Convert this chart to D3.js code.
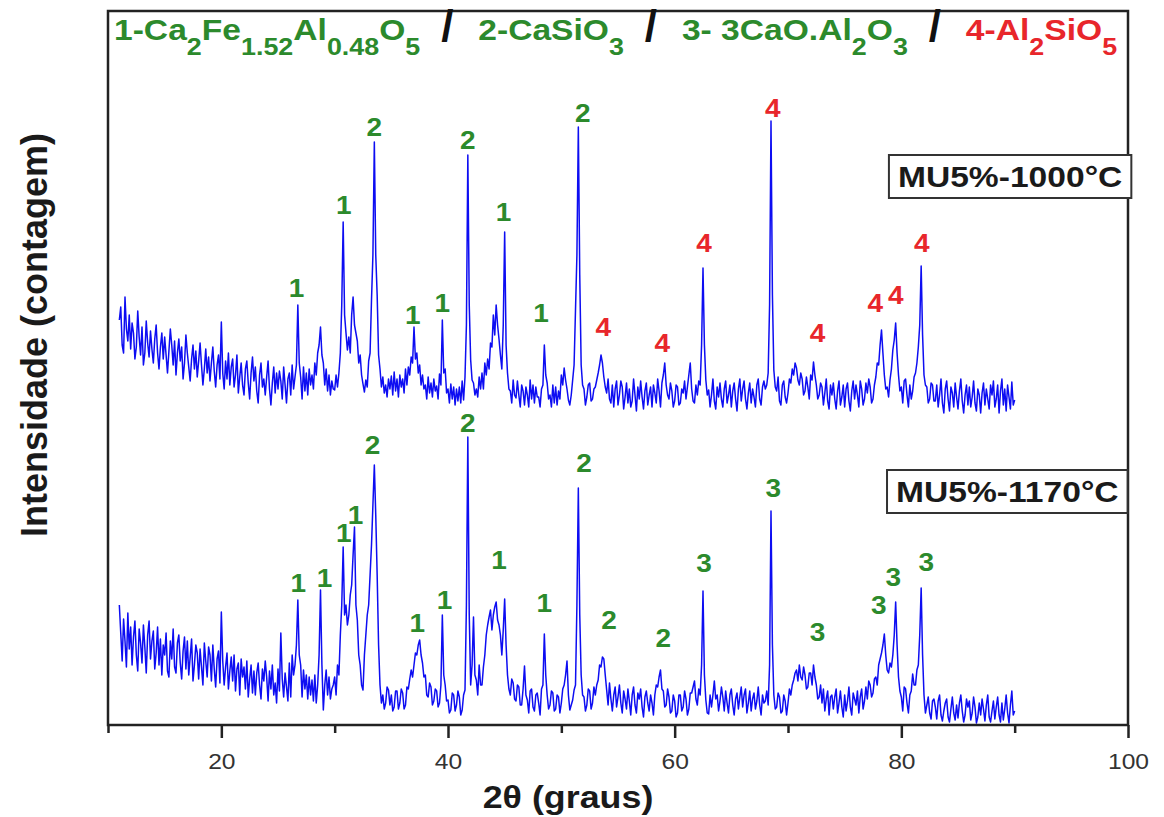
<!DOCTYPE html>
<html>
<head>
<meta charset="utf-8">
<script src="https://cdn.jsdelivr.net/npm/d3@7"></script>
<style>
  body { margin: 0; background: #fff; }
  text { font-family: "Liberation Sans", Arial, sans-serif; }
</style>
</head>
<body>
<svg width="1164" height="817"></svg>
<script>
const width = 1164;
const height = 817;
const margin = { left: 108, right: 36, top: 11, bottom: 92 };
const stretch = 1.12; // the source picture is a bit wider than tall

// 2theta sampling of both patterns
const startAngle = 11;
const stepAngle = 0.125;

// intensity (a.u.), one value every 0.125 deg from 11 to 90, one row per degree
const mu1000 = [
  405, 418, 380, 372, 428, 396, 384, 410,
  376, 402, 392, 366, 378, 414, 388, 370,
  398, 360, 372, 404, 382, 368, 394, 376,
  362, 386, 400, 372, 356, 378, 392, 366,
  388, 370, 352, 374, 396, 380, 360, 384,
  350, 372, 386, 364, 378, 346, 362, 390,
  372, 358, 344, 366, 380, 356, 374, 348,
  364, 382, 360, 340, 356, 376, 352, 368,
  344, 362, 378, 354, 338, 360, 370, 346,
  403, 352, 336, 364, 346, 372, 340, 358,
  366, 338, 350, 370, 332, 348, 362, 340,
  330, 356, 364, 342, 326, 352, 368, 344,
  358, 334, 322, 350, 362, 338, 346, 330,
  348, 364, 336, 320, 342, 358, 332, 352,
  336, 354, 344, 326, 358, 340, 322, 346,
  352, 330, 360, 336, 348, 360, 420, 362,
  348, 326, 358, 334, 352, 330, 356, 340,
  350, 336, 362, 350, 372, 380, 398, 370,
  362, 340, 356, 334, 350, 330, 344, 336,
  335, 350, 338, 352, 372, 420, 503, 410,
  392, 375, 388, 372, 410, 428, 400, 392,
  384, 362, 370, 350, 341, 333, 345, 338,
  364, 372, 425, 470, 583, 470, 430, 370,
  356, 338, 348, 332, 340, 328, 346, 336,
  349, 330, 353, 334, 346, 328, 350, 338,
  346, 332, 356, 340, 358, 350, 368, 362,
  398, 366, 372, 352, 360, 340, 350, 336,
  340, 326, 348, 332, 342, 328, 346, 334,
  339, 326, 351, 340, 405, 352, 356, 332,
  336, 322, 341, 326, 338, 320, 336, 324,
  338, 322, 344, 325, 348, 400, 570, 420,
  365, 345, 342, 330, 336, 328, 348, 336,
  352, 336, 362, 350, 366, 356, 382, 378,
  410, 390, 420, 400, 386, 370, 356, 400,
  493, 380, 352, 336, 334, 322, 345, 330,
  327, 344, 330, 318, 340, 334, 320, 338,
  330, 318, 345, 326, 340, 322, 338, 328,
  328, 318, 336, 340, 380, 350, 342, 326,
  330, 318, 340, 322, 338, 320, 334, 326,
  350, 340, 357, 345, 336, 325, 320, 330,
  345, 360, 415, 470, 598, 450, 360, 340,
  336, 320, 328, 340, 342, 324, 326, 336,
  338, 345, 352, 360, 370, 362, 348, 338,
  332, 346, 326, 322, 340, 318, 336, 344,
  320, 330, 344, 338, 316, 328, 342, 322,
  336, 318, 324, 346, 330, 314, 338, 326,
  344, 328, 316, 334, 342, 320, 330, 338,
  318, 340, 332, 322, 346, 334, 318, 342,
  350, 362, 340, 330, 326, 342, 334, 318,
  324, 340, 338, 320, 322, 336, 332, 344,
  326, 338, 350, 362, 336, 324, 322, 340,
  330, 344, 340, 380, 457, 380, 345, 330,
  335, 318, 330, 346, 324, 316, 338, 328,
  342, 326, 318, 336, 344, 322, 330, 340,
  318, 334, 342, 326, 314, 336, 346, 324,
  336, 344, 326, 316, 332, 342, 322, 336,
  328, 318, 340, 346, 326, 320, 338, 344,
  336, 340, 352, 420, 604, 430, 355, 338,
  334, 348, 324, 320, 340, 344, 328, 322,
  332, 346, 342, 356, 350, 362, 357, 345,
  340, 352, 346, 330, 334, 348, 338, 326,
  350, 345, 363, 350, 340, 326, 330, 342,
  338, 320, 332, 346, 324, 316, 340, 330,
  342, 326, 316, 334, 344, 320, 328, 340,
  318, 336, 342, 324, 314, 334, 344, 326,
  340, 330, 318, 344, 336, 320, 326, 342,
  332, 346, 338, 322, 326, 340, 348, 362,
  360, 380, 395, 372, 350, 336, 338, 328,
  345, 356, 375, 385, 402, 372, 350, 334,
  338, 322, 344, 346, 330, 318, 340, 326,
  334, 348, 352, 362, 378, 400, 459, 390,
  350, 340, 338, 322, 326, 342, 340, 324,
  324, 340, 318, 330, 346, 322, 312, 336,
  344, 326, 314, 338, 332, 318, 342, 328,
  316, 334, 346, 324, 312, 330, 340, 320,
  338, 318, 328, 344, 322, 314, 336, 330,
  312, 332, 342, 320, 336, 326, 316, 340,
  330, 344, 318, 326, 340, 312, 334, 346,
  320, 336, 314, 340, 328, 316, 343, 320,
  325
];

const mu1170 = [
  120, 92, 64, 106, 84, 58, 112, 76,
  98, 60, 88, 104, 70, 54, 96, 82,
  62, 100, 78, 52, 90, 104, 66, 84,
  94, 56, 72, 98, 60, 86, 50, 80,
  70, 92, 54, 48, 84, 66, 96, 58,
  52, 82, 90, 62, 46, 74, 88, 56,
  84, 50, 68, 86, 44, 60, 80, 72,
  46, 76, 58, 40, 82, 64, 48, 78,
  70, 44, 80, 56, 38, 66, 74, 42,
  113, 64, 40, 58, 72, 36, 54, 68,
  44, 70, 34, 56, 62, 30, 66, 48,
  58, 36, 64, 28, 46, 60, 32, 54,
  30, 52, 62, 40, 26, 56, 44, 64,
  48, 24, 54, 36, 60, 30, 42, 22,
  56, 34, 92, 46, 28, 52, 38, 24,
  62, 28, 70, 50, 60, 80, 125, 70,
  60, 28, 55, 36, 50, 26, 48, 30,
  45, 24, 50, 22, 40, 70, 135, 60,
  15, 40, 55, 30, 48, 26, 36, 40,
  48, 30, 60, 50, 90, 120, 178, 110,
  120, 100, 110, 130, 140, 170, 198, 120,
  105, 70, 60, 40, 35, 70, 90, 110,
  120, 150, 180, 220, 260, 210, 150, 80,
  40, 22, 30, 16, 22, 38, 35, 20,
  30, 14, 18, 34, 34, 16, 22, 36,
  32, 16, 20, 38, 36, 46, 55, 48,
  60, 72, 70, 80, 85, 70, 62, 48,
  50, 30, 28, 42, 38, 20, 24, 36,
  34, 18, 22, 40, 110, 50, 40, 24,
  25, 12, 15, 32, 30, 14, 20, 34,
  28, 10, 15, 30, 35, 120, 288, 110,
  40, 60, 108, 50, 45, 30, 60, 40,
  40, 58, 70, 90, 100, 108, 115, 95,
  110, 118, 123, 105, 100, 90, 70, 95,
  126, 80, 50, 36, 30, 46, 42, 26,
  24, 40, 38, 20, 20, 36, 59, 30,
  25, 12, 34, 36, 18, 14, 30, 32,
  22, 10, 36, 40, 91, 50, 30, 16,
  20, 34, 32, 14, 16, 30, 28, 12,
  22, 36, 40, 50, 64, 30, 15, 20,
  25, 35, 40, 120, 237, 110, 50, 30,
  28, 14, 20, 36, 34, 16, 22, 38,
  30, 40, 45, 60, 58, 68, 66, 50,
  35, 20, 42, 26, 14, 30, 38, 18,
  28, 40, 22, 12, 34, 26, 16, 36,
  24, 10, 30, 38, 20, 12, 32, 26,
  36, 18, 8, 28, 34, 22, 14, 30,
  22, 10, 30, 40, 38, 48, 55, 36,
  34, 18, 20, 36, 28, 12, 14, 30,
  24, 8, 12, 30, 30, 14, 18, 34,
  26, 10, 16, 32, 32, 38, 44, 26,
  20, 36, 30, 60, 134, 50, 25, 12,
  11, 30, 18, 30, 44, 26, 30, 14,
  24, 38, 28, 14, 34, 22, 12, 30,
  36, 20, 10, 26, 32, 16, 28, 38,
  18, 30, 36, 12, 22, 34, 14, 26,
  32, 16, 24, 38, 20, 10, 30, 22,
  24, 34, 20, 60, 214, 80, 30, 16,
  18, 32, 28, 12, 14, 30, 24, 10,
  22, 36, 30, 40, 45, 52, 55, 44,
  60, 48, 45, 58, 50, 36, 38, 52,
  52, 40, 60, 48, 40, 26, 28, 40,
  22, 36, 14, 26, 34, 10, 28, 30,
  16, 28, 36, 12, 22, 34, 18, 8,
  30, 14, 24, 38, 18, 10, 32, 26,
  20, 34, 12, 28, 36, 16, 24, 38,
  26, 44, 40, 28, 32, 46, 48, 40,
  60, 66, 72, 80, 91, 70, 55, 52,
  62, 58, 70, 90, 123, 80, 48, 34,
  28, 14, 38, 36, 22, 12, 30, 34,
  51, 40, 40, 55, 60, 90, 137, 70,
  30, 12, 20, 28, 12, 6, 24, 26,
  18, 6, 24, 30, 10, 4, 14, 22,
  26, 8, 3, 16, 28, 12, 5, 20,
  7, 22, 30, 14, 3, 10, 26, 18,
  24, 5, 12, 28, 18, 2, 8, 22,
  10, 26, 16, 4, 20, 30, 8, 3,
  14, 24, 6, 18, 28, 10, 3, 22,
  5, 16, 30, 12, 2, 20, 34, 10,
  14
];

// peak markers: [2theta, intensity of the label, phase]
const peaks1000 = [
  [26.64, 437, "1"], [30.8, 520, "1"], [33.5, 598, "2"], [36.9, 410, "1"],
  [39.5, 422, "1"], [41.75, 585, "2"], [44.9, 513, "1"], [48.2, 412, "1"],
  [51.9, 612, "2"], [53.7, 398, "4"], [58.9, 382, "4"], [62.6, 482, "4"],
  [68.65, 617, "4"], [72.6, 392, "4"], [77.7, 422, "4"], [79.5, 430, "4"],
  [81.8, 482, "4"]
];
const peaks1170 = [
  [26.8, 142, "1"], [29.1, 147, "1"], [30.8, 192, "1"], [31.85, 210, "1"],
  [33.35, 280, "2"], [37.3, 102, "1"], [39.7, 125, "1"], [41.75, 302, "2"],
  [44.5, 165, "1"], [48.5, 122, "1"], [52.0, 262, "2"], [54.2, 105, "2"],
  [59.0, 87, "2"], [62.6, 162, "3"], [68.7, 237, "3"], [72.6, 93, "3"],
  [78.0, 120, "3"], [79.3, 148, "3"], [82.2, 163, "3"]
];

// sample names and where they sit
const sampleNames = ["MU5%-1000°C", "MU5%-1170°C"];
const sampleAngles = [89.6, 89.35];
const sampleLevels = [549, 234];

// phase legend, parts flagged 1 are subscripts
const phaseNames = ["1", "2", "3", "4"];
const phaseParts = [
  [["1-Ca", 0], ["2", 1], ["Fe", 0], ["1.52", 1], ["Al", 0], ["0.48", 1], ["O", 0], ["5", 1]],
  [["2-CaSiO", 0], ["3", 1]],
  [["3- 3CaO.Al", 0], ["2", 1], ["O", 0], ["3", 1]],
  [["4-Al", 0], ["2", 1], ["SiO", 0], ["5", 1]]
];
const phaseColors = ["#2c8a2c", "#2c8a2c", "#2c8a2c", "#e8262b"];

const xTicks = [20, 40, 60, 80, 100];
const xMinorTicks = [10, 30, 50, 70, 90];

const svg = d3.select("svg");
const colorOf = p => phaseColors[phaseNames.indexOf(p)];

const x = d3.scaleLinear()
  .domain([10, 100])
  .range([margin.left, width - margin.right]);

const y = d3.scaleLinear()
  .domain([0, 714])
  .range([height - margin.bottom, margin.top]);

// patterns
const line = d3.line()
  .x((d, i) => x(startAngle + i * stepAngle))
  .y(d => y(d));

[mu1000, mu1170].forEach(series => {
  svg.append("path")
    .datum(series)
    .attr("fill", "none")
    .attr("stroke", "#0d0df2")
    .attr("stroke-width", 1.5)
    .attr("stroke-linejoin", "round")
    .attr("d", line);
});

// frame
svg.append("rect")
  .attr("x", x(10))
  .attr("y", y(714))
  .attr("width", x(100) - x(10))
  .attr("height", y(0) - y(714))
  .attr("fill", "none")
  .attr("stroke", "#222")
  .attr("stroke-width", 2.5);

// x axis
const xAxis = svg.append("g")
  .attr("transform", `translate(0,${y(0)})`)
  .call(d3.axisBottom(x).tickValues(xTicks).tickSize(13).tickPadding(15));
xAxis.select(".domain").remove();
xAxis.selectAll(".tick line").attr("stroke", "#222").attr("stroke-width", 2.5);
xAxis.selectAll(".tick text")
  .attr("font-size", 22)
  .attr("fill", "#333")
  .attr("font-family", "'Liberation Sans', Arial, sans-serif")
  .attr("transform", `scale(${stretch},1)`);

const xMinor = svg.append("g")
  .attr("transform", `translate(0,${y(0)})`)
  .call(d3.axisBottom(x).tickValues(xMinorTicks).tickSize(8).tickFormat(""));
xMinor.select(".domain").remove();
xMinor.selectAll(".tick line").attr("stroke", "#222").attr("stroke-width", 2.5);

svg.append("text")
  .attr("transform", `translate(568,808) scale(${stretch},1)`)
  .attr("text-anchor", "middle")
  .attr("font-size", 32)
  .attr("font-weight", "bold")
  .attr("fill", "#1a1a1a")
  .text("2θ (graus)");

svg.append("text")
  .attr("transform", "translate(47,335) rotate(-90)")
  .attr("text-anchor", "middle")
  .attr("font-size", 36)
  .attr("font-weight", "bold")
  .attr("fill", "#1a1a1a")
  .text("Intensidade (contagem)");

// peak labels
[peaks1000, peaks1170].forEach(list => {
  svg.append("g")
    .selectAll("text")
    .data(list)
    .enter()
    .append("text")
    .attr("transform", d => `translate(${x(d[0])},${y(d[1])}) scale(${stretch},1)`)
    .attr("dy", "0.36em")
    .attr("text-anchor", "middle")
    .attr("font-size", 25)
    .attr("font-weight", "bold")
    .attr("fill", d => colorOf(d[2]))
    .text(d => d[2]);
});

// sample boxes
sampleNames.forEach((name, i) => {
  const g = svg.append("g")
    .attr("transform", `translate(${x(sampleAngles[i])},${y(sampleLevels[i])})`);
  const t = g.append("text")
    .attr("transform", `scale(${stretch},1)`)
    .attr("dy", "0.36em")
    .attr("text-anchor", "middle")
    .attr("font-size", 30)
    .attr("font-weight", "bold")
    .attr("fill", "#1a1a1a")
    .text(name);
  const w = t.node().getComputedTextLength() * stretch;
  g.insert("rect", "text")
    .attr("x", -w / 2 - 9)
    .attr("y", -21)
    .attr("width", w + 18)
    .attr("height", 43)
    .attr("fill", "#fff")
    .attr("stroke", "#333")
    .attr("stroke-width", 2);
});

// phase legend along the top
const legend = svg.append("g");
let cursor = 114;
phaseParts.forEach((parts, i) => {
  if (i > 0) {
    legend.append("text")
      .attr("x", cursor + 27)
      .attr("y", 41)
      .attr("text-anchor", "middle")
      .attr("font-size", 44)
      .attr("font-weight", "bold")
      .attr("fill", "#111")
      .text("/");
    cursor += 58;
  }
  const t = legend.append("text")
    .attr("transform", `translate(${cursor},40) scale(${stretch},1)`)
    .attr("font-weight", "bold")
    .attr("fill", phaseColors[i]);
  let shift = 0;
  parts.forEach(([s, sub]) => {
    const target = sub ? 15 : 0;
    t.append("tspan")
      .attr("font-size", sub ? 24 : 30)
      .attr("dy", target - shift)
      .text(s);
    shift = target;
  });
  cursor += t.node().getBBox().width * stretch;
});
</script>
</body>
</html>
